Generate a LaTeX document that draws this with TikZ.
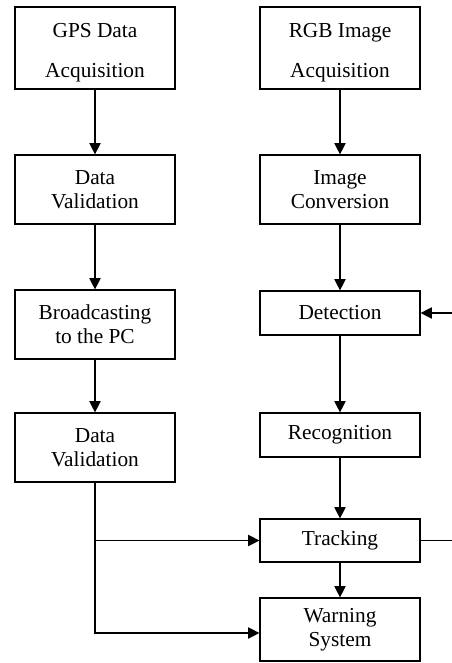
\documentclass[tikz,border=0pt]{standalone}
\usepackage{fontspec}
\setmainfont{Liberation Serif}
\usetikzlibrary{arrows.meta}

\newcommand{\toppad}{\rule{0pt}{17pt}}

\tikzset{
  block/.style={draw, line width=0.9pt, minimum width=120pt, inner sep=0pt,
    align=center, font=\fontsize{16}{18}\selectfont},
  wideblock/.style={block, font=\fontsize{16}{30}\selectfont},
  flow/.style={line width=0.9pt, -{Triangle[length=8.5pt,width=8.5pt]}},
  plain/.style={line width=0.9pt}
}

\begin{document}
\begin{tikzpicture}[x=0.75pt,y=0.75pt,yscale=-1,xscale=1]
\useasboundingbox (0,0) rectangle (452,663);
% left column
\node [wideblock, minimum height=61.5pt] (gps) at (95,48) {\toppad GPS Data\\Acquisition};
\node [block, minimum height=51.75pt] (valone) at (95,189.5) {Data\\Validation};
\node [block, minimum height=51.75pt] (bcast) at (95,324.5) {Broadcasting\\to the PC};
\node [block, minimum height=51.75pt] (valtwo) at (95,447.5) {Data\\Validation};
% right column
\node [wideblock, minimum height=61.5pt] (rgb) at (340,48) {\toppad RGB Image\\Acquisition};
\node [block, minimum height=51.75pt] (conv) at (340,189.5) {Image\\Conversion};
\node [block, minimum height=33pt] (detect) at (340,313) {Detection};
\node [block, minimum height=33pt] (recog) at (340,435) {Recognition};
\node [block, minimum height=32.25pt] (track) at (340,540.5) {Tracking};
\node [block, minimum height=47.25pt] (warn) at (340,629.5) {Warning\\System};
% free ends at the right edge
\coordinate (fbin) at (452,313);
\coordinate (fbout) at (452,540.5);
\coordinate (split) at (95,540.5);
\coordinate (bend) at (95,633);
% connectors
\draw [flow] (gps) -- (valone);
\draw [flow] (valone) -- (bcast);
\draw [flow] (bcast) -- (valtwo);
\draw [flow] (rgb) -- (conv);
\draw [flow] (conv) -- (detect);
\draw [flow] (detect) -- (recog);
\draw [flow] (recog) -- (track);
\draw [flow] (track) -- (warn);
\draw [flow] (valtwo.south) -- (bend) -- (bend -| warn.west);
\draw [flow] (split) -- (track.west);
\draw [flow] (fbin) -- (detect.east);
\draw [plain] (track.east) -- (fbout);
\end{tikzpicture}
\end{document}
